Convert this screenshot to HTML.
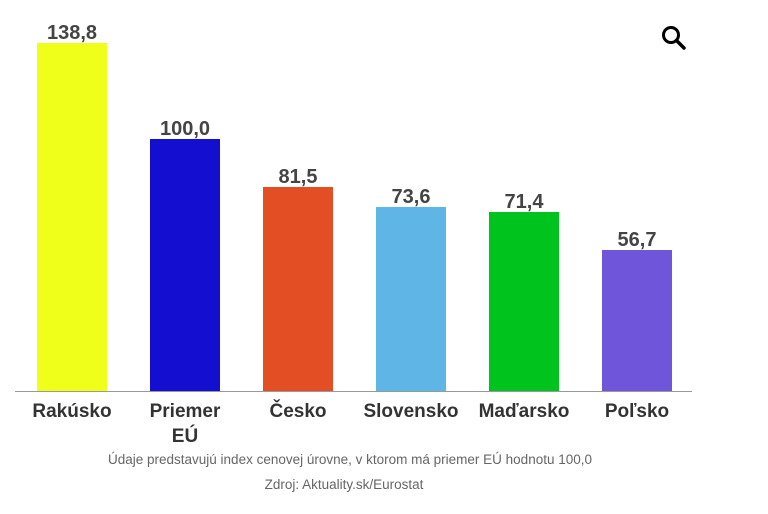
<!DOCTYPE html>
<html><head><meta charset="utf-8"><style>
body{margin:0;width:768px;height:509px;background:#fff;overflow:hidden;font-family:"Liberation Sans",sans-serif}
</style></head><body>
<svg width="768" height="509" xmlns="http://www.w3.org/2000/svg" font-family="Liberation Sans, sans-serif">
<g>
<rect x="37" y="43" width="70" height="348" fill="#f0ff1a"/>
<rect x="150" y="139" width="70" height="252" fill="#140fd0"/>
<rect x="263" y="187" width="70" height="204" fill="#e34e24"/>
<rect x="376" y="207" width="70" height="184" fill="#5fb5e5"/>
<rect x="489" y="212" width="70" height="179" fill="#00c41e"/>
<rect x="602" y="250" width="70" height="141" fill="#6e55d9"/>
</g>
<line x1="15" y1="391.5" x2="692" y2="391.5" stroke="#999" stroke-width="1"/>
<g font-size="20" font-weight="bold" fill="#444" text-anchor="middle">
<text x="72" y="39">138,8</text>
<text x="185" y="135">100,0</text>
<text x="298" y="183">81,5</text>
<text x="411" y="203">73,6</text>
<text x="524" y="208">71,4</text>
<text x="637" y="246">56,7</text>
</g>
<g font-size="19" font-weight="bold" fill="#333" text-anchor="middle">
<text x="72" y="417">Rakúsko</text>
<text x="185" y="417">Priemer</text>
<text x="185" y="442">EÚ</text>
<text x="298" y="417">Česko</text>
<text x="411" y="417">Slovensko</text>
<text x="524" y="417">Maďarsko</text>
<text x="637" y="417">Poľsko</text>
</g>
<g font-size="13.5" fill="#666" text-anchor="middle">
<text x="350" y="464">Údaje predstavujú index cenovej úrovne, v ktorom má priemer EÚ hodnotu 100,0</text>
<text x="344" y="489">Zdroj: Aktuality.sk/Eurostat</text>
</g>
<circle cx="671" cy="35" r="7.5" fill="none" stroke="#000" stroke-width="3"/>
<line x1="676.5" y1="40.5" x2="684" y2="48" stroke="#000" stroke-width="3.5" stroke-linecap="round"/>
</svg>
</body></html>
